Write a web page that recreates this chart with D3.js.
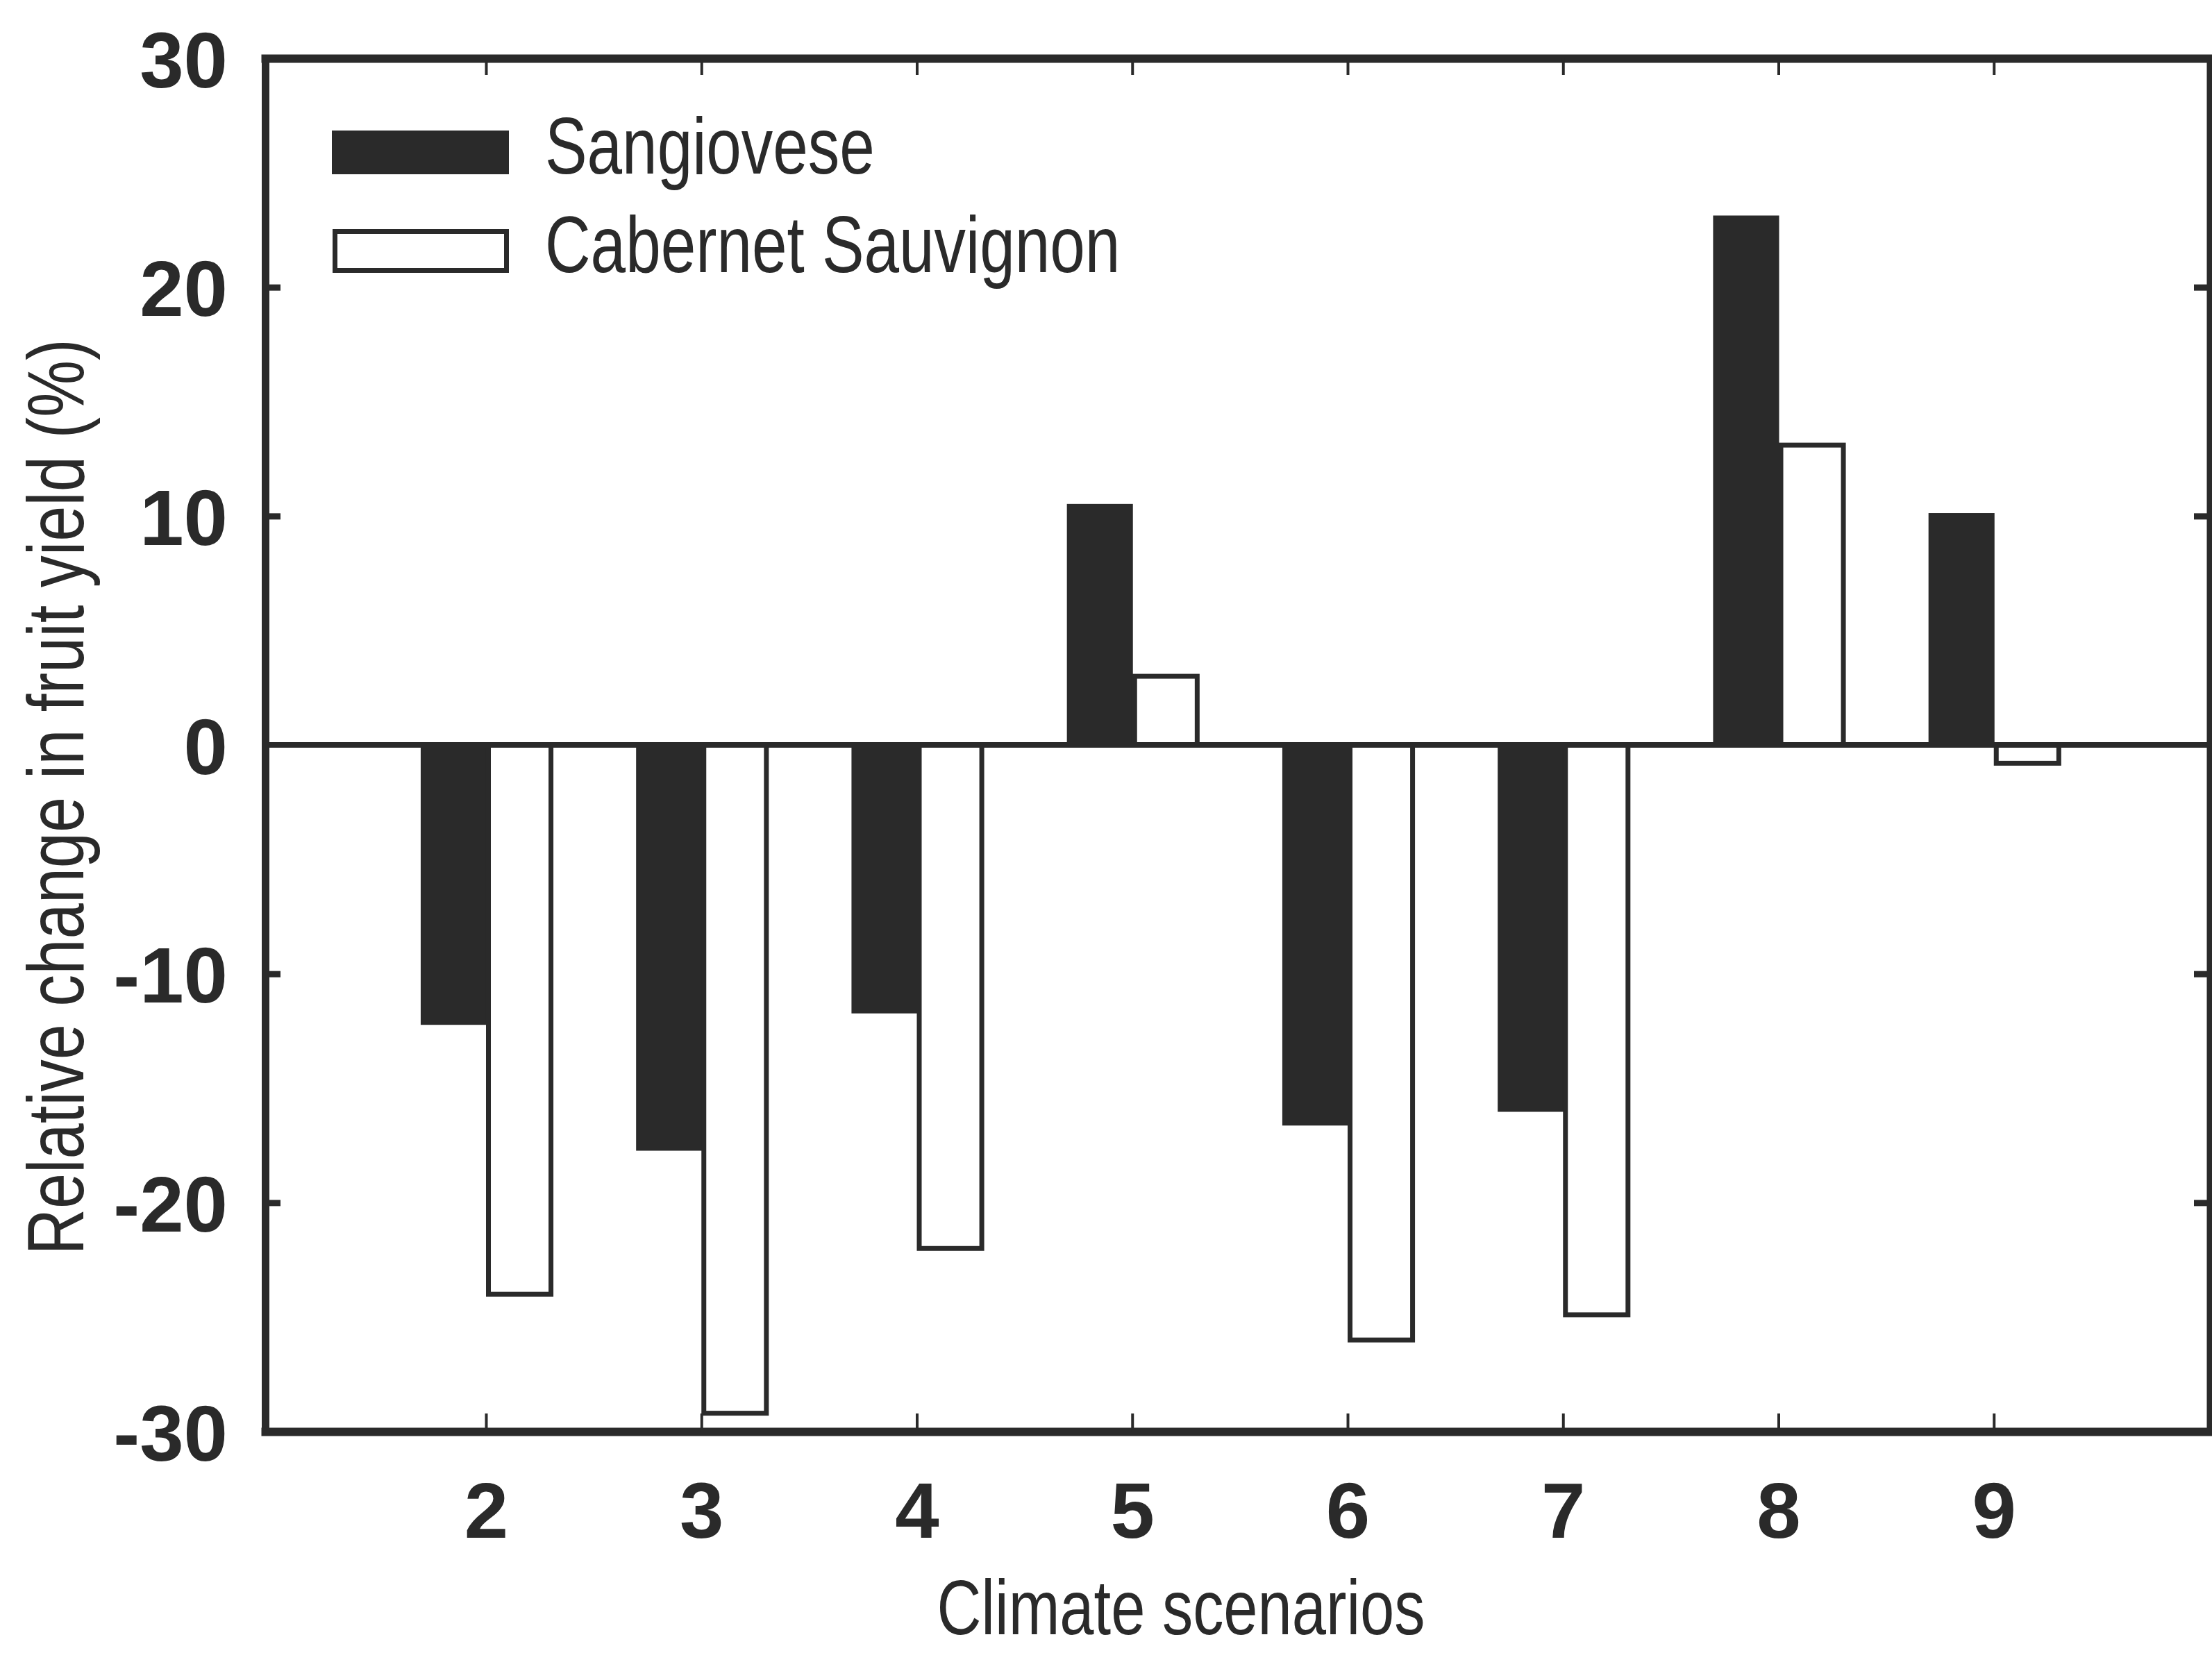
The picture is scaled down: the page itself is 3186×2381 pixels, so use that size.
<!DOCTYPE html>
<html>
<head>
<meta charset="utf-8">
<script src="https://cdn.jsdelivr.net/npm/d3@7"></script>
<style>
  html, body { margin: 0; padding: 0; background: #ffffff; }
  svg { display: block; }
  text { font-family: "Liberation Sans", Arial, sans-serif; fill: #2a2a2a; }
</style>
</head>
<body>
<svg id="chart" width="3186" height="2381"></svg>
<script>
// Climate scenarios on the x axis
const categories = [2, 3, 4, 5, 6, 7, 8, 9];
// Relative change in fruit yield (%) per scenario
const sangiovese = [-12.2, -17.7, -11.7, 10.5, -16.6, -16.0, 23.1, 10.1];
const cabernet   = [-24.0, -29.2, -22.0, 3.0, -26.0, -24.9, 13.1, -0.8];
const seriesNames = ["Sangiovese", "Cabernet Sauvignon"];
const yTickValues = [-30, -20, -10, 0, 10, 20, 30];
const yInnerTicks = [-20, -10, 10, 20];

const ink = "#2a2a2a";
const narrow = 0.79;

const svg = d3.select("#chart");
const W = 3186, H = 2381;
svg.append("rect").attr("width", W).attr("height", H).attr("fill", "#fff");

const x = d3.scaleLinear().domain([0.975, 10]).range([382, 3182]);
const y = d3.scaleLinear().domain([-30, 30]).range([2062, 84]);
const barW = x(0.3) - x(0);

const data = categories.map((c, i) => ({ c, s: sangiovese[i], cs: cabernet[i] }));

// Sangiovese bars (filled), left of each scenario tick
svg.append("g").selectAll("rect").data(data).join("rect")
  .attr("x", d => x(d.c) - barW)
  .attr("width", barW)
  .attr("y", d => y(Math.max(0, d.s)))
  .attr("height", d => Math.abs(y(d.s) - y(0)))
  .attr("fill", ink)
  .attr("stroke", ink)
  .attr("stroke-width", 2);

// Cabernet Sauvignon bars (open), right of each scenario tick
svg.append("g").selectAll("rect").data(data).join("rect")
  .attr("x", d => x(d.c) + 3.5)
  .attr("width", barW - 3)
  .attr("y", d => y(Math.max(0, d.cs)))
  .attr("height", d => Math.abs(y(d.cs) - y(0)))
  .attr("fill", "#fff")
  .attr("stroke", ink)
  .attr("stroke-width", 7);

// zero reference line
svg.append("line")
  .attr("x1", x.range()[0]).attr("x2", x.range()[1])
  .attr("y1", y(0)).attr("y2", y(0))
  .attr("stroke", ink).attr("stroke-width", 8);

function styleAxis(g, domainW, tickW) {
  g.select(".domain").attr("stroke", ink).attr("stroke-width", domainW).attr("stroke-linecap", "square");
  g.selectAll(".tick line").attr("stroke", ink).attr("stroke-width", tickW);
  g.selectAll(".tick text")
    .attr("fill", ink)
    .style("font-family", '"Liberation Sans", Arial, sans-serif')
    .style("font-weight", "bold")
    .style("font-size", "114px");
}

const plainNum = d => String(d);

// left axis with labels
const gl = svg.append("g").attr("transform", `translate(${x.range()[0]},0)`)
  .call(d3.axisLeft(y).tickValues(yTickValues).tickSizeInner(0).tickSizeOuter(0)
    .tickPadding(54).tickFormat(plainNum));
styleAxis(gl, 11, 9);
gl.selectAll(".tick text").attr("dy", "0.36em");

// inner ticks on left axis
const gli = svg.append("g").attr("transform", `translate(${x.range()[0]},0)`)
  .call(d3.axisLeft(y).tickValues(yInnerTicks).tickSizeInner(-22).tickSizeOuter(0).tickFormat(""));
styleAxis(gli, 0, 9);
gli.select(".domain").remove();

// right frame with inner ticks
const gr = svg.append("g").attr("transform", `translate(${x.range()[1]},0)`)
  .call(d3.axisRight(y).tickValues(yInnerTicks).tickSizeInner(-22).tickSizeOuter(0).tickFormat(""));
styleAxis(gr, 8, 9);

// bottom axis with scenario labels
const gb = svg.append("g").attr("transform", `translate(0,${y.range()[0]})`)
  .call(d3.axisBottom(x).tickValues(categories).tickSizeInner(-26).tickSizeOuter(0)
    .tickPadding(71).tickFormat(plainNum));
styleAxis(gb, 12, 4);
gb.selectAll(".tick text").attr("y", 71).attr("dy", "0.72em");

// top frame with inner ticks
const gt = svg.append("g").attr("transform", `translate(0,${y.range()[1]})`)
  .call(d3.axisTop(x).tickValues(categories).tickSizeInner(-24).tickSizeOuter(0).tickFormat(""));
styleAxis(gt, 12, 4);

// axis titles (narrow face)
svg.append("text")
  .attr("transform", `translate(1701,2354) scale(${narrow},1)`)
  .attr("text-anchor", "middle")
  .style("font-size", "112px")
  .text("Climate scenarios");

svg.append("text")
  .attr("transform", `translate(120,1148) rotate(-90) scale(${narrow + 0.01},1)`)
  .attr("text-anchor", "middle")
  .style("font-size", "115px")
  .text("Relative change in fruit yield (%)");

// legend
const legend = svg.append("g");
legend.append("rect")
  .attr("x", 478).attr("y", 188).attr("width", 255).attr("height", 63)
  .attr("fill", ink);
legend.append("rect")
  .attr("x", 482.5).attr("y", 333.5).attr("width", 247).attr("height", 56)
  .attr("fill", "#fff").attr("stroke", ink).attr("stroke-width", 7);
legend.selectAll("text.lg").data(seriesNames).join("text")
  .attr("class", "lg")
  .attr("transform", (d, i) => `translate(785,${250 + i * 142}) scale(${narrow},1)`)
  .style("font-size", "115px")
  .text(d => d);
</script>
</body>
</html>
